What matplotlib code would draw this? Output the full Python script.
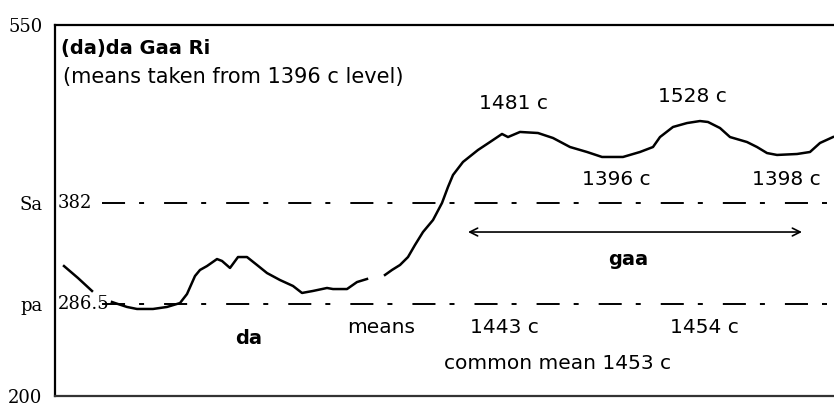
import matplotlib.pyplot as plt

plt.rcParams['lines.scale_dashes'] = False

# pitch trace (time in arbitrary units, pitch on the chart's own scale)
t1 = [9, 23, 37]
p1 = [322.6, 311.3, 299.1]

t2 = [57, 60, 72, 82, 98, 112, 125, 132, 140, 145, 152, 162, 167, 175, 183,
      192, 202, 212, 225, 238, 247, 258, 272, 278, 292, 302, 312]
p2 = [288.7, 287.7, 284.0, 282.1, 282.1, 284.0, 287.7, 296.2, 313.2, 318.9,
      322.6, 329.2, 327.4, 320.8, 331.1, 331.1, 323.6, 316.0, 309.4, 303.8,
      297.2, 299.1, 301.9, 300.9, 300.9, 307.5, 310.4]

t3 = [330, 337, 345, 353, 360, 368, 378, 387, 393, 398, 408, 423, 435, 447,
      453, 465, 483, 498, 515, 532, 547, 568, 585, 598, 605, 618, 632, 645,
      653, 665, 675, 692, 702, 712, 722, 742, 755, 765, 778]
p3 = [314.2, 318.9, 323.6, 331.1, 342.5, 354.7, 366.0, 382.1, 397.2, 408.5,
      420.8, 432.1, 439.6, 447.2, 444.3, 449.1, 448.1, 443.4, 434.9, 430.2,
      425.5, 425.5, 430.2, 434.9, 444.3, 453.8, 457.5, 459.4, 458.5, 452.8,
      444.3, 439.6, 434.9, 429.2, 427.4, 428.3, 430.2, 438.7, 444.3]

# reference levels
sa = 382
pa = 286.5
y_ticks = [200, pa, sa, 550]
y_labels = ['200', 'pa', 'Sa', '550']

# gaa span
gaa_start = 413
gaa_end = 747
gaa_level = 354.7

fig = plt.figure(figsize=(8.34, 4.07), dpi=100)
ax = fig.add_axes([55 / 834, 11 / 407, 779 / 834, 371 / 407])
ax.set_xlim(0, 779)
ax.set_ylim(200, 550)

for s in ['left', 'top', 'bottom']:
    ax.spines[s].set_linewidth(1.6)
ax.spines['right'].set_visible(False)
ax.spines['bottom'].set_color('#333333')

ax.set_xticks([])
ax.set_yticks(y_ticks)
ax.set_yticklabels(y_labels, family='DejaVu Serif', fontsize=13)
ax.tick_params(axis='y', length=0, pad=9)

# dashed levels
dash = (0, (16.6, 10.1, 3.6, 14.4))
ax.plot([47, 779], [sa, sa], color='black', lw=1.4, linestyle=dash)
ax.plot([47, 779], [pa, pa], color='black', lw=1.4, linestyle=dash)
ax.text(3, sa, '382', family='DejaVu Serif', fontsize=13, va='center', ha='left')
ax.text(3, pa, '286.5', family='DejaVu Serif', fontsize=13, va='center', ha='left')

# pitch curve
for t, p in [(t1, p1), (t2, p2), (t3, p3)]:
    ax.plot(t, p, color='black', lw=1.8)

# gaa arrow
ax.annotate('', xy=(gaa_end, gaa_level), xytext=(gaa_start, gaa_level),
            arrowprops=dict(arrowstyle='<->', color='black', lw=1.2,
                            mutation_scale=14, shrinkA=0, shrinkB=0))

f = 'DejaVu Sans'
fs = 14.5
ax.text(6, 528.3, '(da)da Gaa Ri', family=f, fontsize=14, fontweight='bold', va='center')
ax.text(8, 500.9, '(means taken from 1396 c level)', family=f, fontsize=15, va='center')
ax.text(458, 475.5, '1481 c', family=f, fontsize=fs, ha='center', va='center')
ax.text(637, 483, '1528 c', family=f, fontsize=fs, ha='center', va='center')
ax.text(561, 404.7, '1396 c', family=f, fontsize=fs, ha='center', va='center')
ax.text(731, 404.7, '1398 c', family=f, fontsize=fs, ha='center', va='center')
ax.text(573, 329.2, 'gaa', family=f, fontsize=14, fontweight='bold', ha='center', va='center')
ax.text(194, 254.7, 'da', family=f, fontsize=14, fontweight='bold', ha='center', va='center')
ax.text(326, 264.2, 'means', family=f, fontsize=fs, ha='center', va='center')
ax.text(449, 264.2, '1443 c', family=f, fontsize=fs, ha='center', va='center')
ax.text(649, 264.2, '1454 c', family=f, fontsize=fs, ha='center', va='center')
ax.text(502, 230.2, 'common mean 1453 c', family=f, fontsize=fs, ha='center', va='center')

plt.savefig('out.png', dpi=100)
